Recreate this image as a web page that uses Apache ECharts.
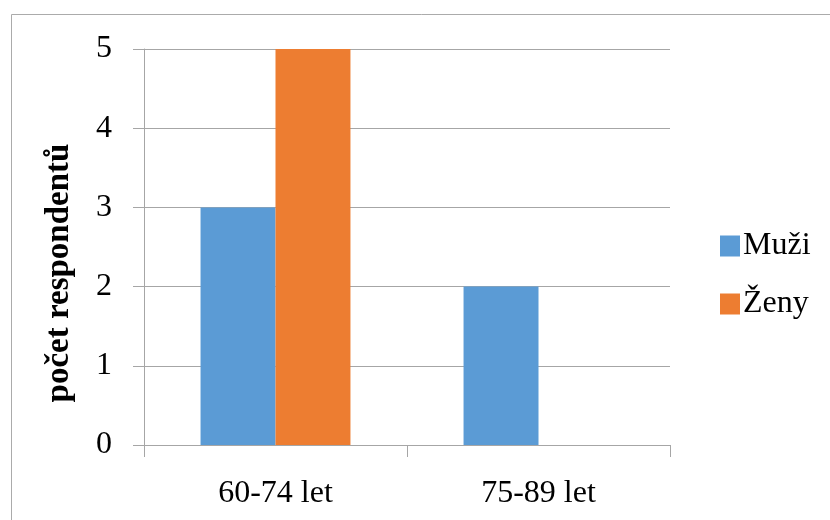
<!DOCTYPE html>
<html><head><meta charset="utf-8">
<script src="https://cdn.jsdelivr.net/npm/echarts@6/dist/echarts.min.js"></script>
<style>html,body{margin:0;padding:0;background:#fff}#c{width:830px;height:520px}</style>
</head><body><div id="c"></div>
<script>
const categories = ['60-74 let', '75-89 let'];
const muzi = [3, 2];
const zeny = [5, 0];
const seriesNames = ['Muži', 'Ženy'];
const yTitle = 'počet respondentů';
const FONT = '"Liberation Serif", serif';
const chart = echarts.init(document.getElementById('c'), null, {renderer: 'canvas'});
chart.setOption({
  animation: false,
  backgroundColor: '#fff',
  graphic: [{type: 'rect', shape: {x: 11.5, y: 14.5, width: 830, height: 520}, style: {fill: 'none', stroke: '#ababab', lineWidth: 1}, silent: true}],
  grid: {left: 144, right: 160, top: 49, bottom: 75},
  legend: {
    orient: 'vertical', left: 715, top: 225, itemWidth: 20, itemHeight: 21, itemGap: 26,
    icon: 'rect',
    textStyle: {fontFamily: FONT, fontSize: 32, color: '#000', padding: [0, 0, 0, -2]},
    data: seriesNames
  },
  xAxis: {
    type: 'category', data: categories,
    axisLine: {lineStyle: {color: '#a6a6a6', width: 1}},
    axisTick: {show: true, length: 12, lineStyle: {color: '#a6a6a6'}},
    axisLabel: {fontFamily: FONT, fontSize: 32, color: '#000', margin: 33}
  },
  yAxis: {
    type: 'value', min: 0, max: 5, interval: 1,
    name: yTitle, nameLocation: 'middle', nameGap: 68, nameRotate: 90,
    nameTextStyle: {fontFamily: FONT, fontSize: 33, fontWeight: 'bold', color: '#000', padding: [0, 52, 0, 0]},
    axisLine: {show: true, lineStyle: {color: '#a6a6a6', width: 1}},
    axisTick: {show: true, length: 11, lineStyle: {color: '#a6a6a6'}},
    splitLine: {lineStyle: {color: '#a6a6a6', width: 1}},
    axisLabel: {fontFamily: FONT, fontSize: 32, color: '#000', margin: 32}
  },
  series: [
    {name: seriesNames[0], type: 'bar', data: muzi, itemStyle: {color: '#5B9BD5'}, barGap: '0%', barCategoryGap: '43%'},
    {name: seriesNames[1], type: 'bar', data: zeny, itemStyle: {color: '#ED7D31'}, barGap: '0%', barCategoryGap: '43%'}
  ]
});
</script></body></html>
